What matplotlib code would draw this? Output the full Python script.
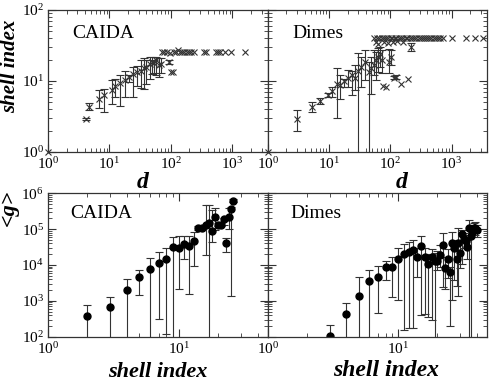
import matplotlib
matplotlib.use('Agg')
import matplotlib.pyplot as plt
import numpy as np

plt.rcParams['font.family'] = 'Liberation Serif'
plt.rcParams['mathtext.fontset'] = 'custom'
plt.rcParams['mathtext.rm'] = 'Liberation Serif'
plt.rcParams['mathtext.it'] = 'Liberation Serif:italic'
plt.rcParams['mathtext.bf'] = 'Liberation Serif:bold'

# --- top left: CAIDA shell index vs degree
caida_d = [4.2, 4.6, 6.7, 8.3, 10.9, 12.5, 14.8, 17.8, 20.5, 24, 28, 33, 37, 40, 45, 49, 53, 58, 63, 70, 92]
caida_s = [2.9, 4.3, 5.5, 6.3, 7.4, 8.4, 9.4, 10.2, 11.4, 12.5, 13.5, 13.9, 15.0, 15.8, 17.2, 18.6, 17.7, 19.5, 16.7, 17.5, 18.6]
caida_s_lo = [2.8, 3.9, 4.1, 3.7, 4.8, 6.0, 4.5, 6.0, 9.8, 6.0, 8.5, 8.0, 7.8, 9.0, 10.8, 12.5, 13.0, 12.0, 11.5, 13.0, 17.5]
caida_s_hi = [3.0, 4.9, 7.4, 7.8, 10.2, 10.8, 12.0, 13.8, 12.3, 15.5, 16.5, 20.0, 20.8, 20.0, 22.0, 21.5, 20.0, 22.0, 20.8, 21.0, 20.0]
caida_flat_d = [1, 72, 78, 85, 95, 100, 108, 112, 120, 128, 140, 150, 165, 180, 200, 215, 240, 340, 370, 550, 580, 620, 770, 950, 1620]
caida_flat_s = [1, 26, 26, 26, 25, 13.5, 13.5, 26, 26, 27, 26, 26, 26, 26, 26, 26, 26, 26, 26, 26, 26, 26, 26, 26, 26]

# --- top right: Dimes shell index vs degree
dimes_d = [2.93, 5.15, 7.05, 9.4, 11.2, 13.2, 14.9, 17.5, 20.3, 23.7, 26.9, 29.7, 33.6, 39, 44.4, 47.6, 54, 59, 63, 68, 72, 94, 103, 114, 125, 220]
dimes_s = [2.95, 4.3, 5.25, 6.3, 7.3, 9.2, 8.7, 9.9, 11.2, 12.1, 11.2, 13.9, 15.8, 18.6, 13.5, 15, 16.7, 19.7, 21.8, 24, 20, 18.6, 21.8, 11.2, 11.4, 30]
dimes_s_lo = [1.98, 3.67, 4.7, 5.9, 6.0, 3.05, 5.65, 8.3, 8.1, 6.3, 7.4, 0.5, 8.2, 10.2, 0.5, 6.5, 12.1, 10.2, 13.5, 16, 13, 13, 17, 10.8, 10.8, 26.6]
dimes_s_hi = [3.87, 5.08, 5.85, 6.7, 8.1, 15, 12.1, 10.8, 14.2, 13.9, 16.7, 24.4, 21.5, 27, 18.6, 22, 27, 25.8, 28.7, 30, 27, 28, 27, 11.7, 12, 34.5]
dimes_flat_d = [1, 76, 86, 150, 194, 58, 64, 80, 90, 110, 130, 160,
                55, 61, 66, 73, 79, 84, 92, 101, 107, 118, 126, 139, 151, 162, 178, 190, 210, 225, 247, 265, 290, 312,
                342, 368, 402, 433, 470, 515, 552, 600, 660, 715, 1000, 1700, 2400, 3300]
dimes_flat_s = [1, 8.4, 8.1, 9.2, 10.8, 35, 33, 36, 34, 35, 37, 36,
                40, 40, 40, 40, 40, 40, 40, 40, 40, 40, 40, 40, 40, 40, 40, 40, 40, 40, 40, 40, 40, 40,
                40, 40, 40, 40, 40, 40, 40, 40, 40, 40, 40, 40, 40, 40]

# --- bottom left: CAIDA <g> vs shell index
caida_k = [2, 3, 4, 5, 6, 7, 8, 9, 10, 11, 12, 13, 14, 15, 16, 17, 18, 19, 20, 21, 22, 23, 24, 25, 26]
caida_g = [380, 660, 2000, 4500, 7600, 11600, 14400, 31000, 29000, 37500, 34000, 47500, 105000, 110000,
           131000, 151000, 91000, 222000, 131000, 131000, 188000, 40000, 222000, 358000, 624000]
caida_g_lo = [50, 50, 50, 1450, 50, 305, 119, 50, 2140, 15000, 1550, 9400, 95000, 100000,
              19000, 50, 45000, 95000, 120000, 120000, 130000, 23700, 100000, 1400, 560000]
caida_g_hi = [760, 1300, 4000, 7300, 15400, 23700, 29000, 59000, 65000, 65000, 65000, 85000, 125000, 120000,
              470000, 470000, 340000, 380000, 150000, 150000, 210000, 55000, 380000, 420000, 680000]

# --- bottom right: Dimes <g> vs shell index
dimes_k = [3, 4, 5, 6, 7, 8, 9, 10, 11, 12, 13, 14, 15, 16, 17, 18, 19, 20, 21, 22, 23, 24, 25, 26,
           27, 28, 29, 30, 31, 32, 33, 34, 35, 36, 37, 38, 39, 40]
dimes_g = [105, 430, 1360, 3640, 4550, 8900, 8900, 14700, 20000, 23000, 26000, 17000, 34000, 17000,
           10700, 17000, 12900, 12900, 19000, 36000, 8100, 14700, 6300, 42000, 29000, 15000, 40000, 21000,
           72000, 52000, 48000, 31000, 105000, 65000, 85000, 105000, 110000, 95000]
dimes_g_lo = [50, 50, 50, 50, 470, 3800, 1260, 1050, 154, 172, 172, 4700, 400, 420, 360, 300, 50, 7200,
              9000, 2500, 2130, 4400, 200, 1050, 3800, 2600, 1360, 8000, 11000, 30000, 30000, 15000, 50, 50,
              60000, 70000, 70000, 60000]
dimes_g_hi = [212, 850, 4700, 7200, 9300, 13200, 17000, 29000, 39000, 45000, 50000, 30000, 66000, 30000,
              20000, 28000, 22000, 24000, 36000, 76000, 17000, 28000, 9000, 85000, 50000, 26000, 105000, 45000,
              95000, 80000, 70000, 50000, 180000, 110000, 130000, 150000, 160000, 130000]

fig = plt.figure(figsize=(4.91, 3.81), dpi=100)
W, H = 491.0, 381.0
ax_tl = fig.add_axes([48/W, 1-152/H, 220/W, 142/H])
ax_tr = fig.add_axes([268/W, 1-152/H, 219/W, 142/H])
ax_bl = fig.add_axes([48/W, 1-336.7/H, 220/W, 143.4/H])
ax_br = fig.add_axes([268/W, 1-336.7/H, 219/W, 143.4/H])

ecol = '#333333'


def yerr(y, lo, hi):
    y = np.array(y)
    return [y - np.array(lo), np.array(hi) - y]


def top_panel(ax, d, s, lo, hi, fd, fs, name):
    ax.errorbar(d, s, yerr=yerr(s, lo, hi), fmt='x', color=ecol, ms=4, mew=0.8,
                ecolor=ecol, elinewidth=0.8, capsize=3, capthick=0.8)
    ax.plot(fd, fs, 'x', color=ecol, ms=4, mew=0.8, clip_on=False)
    ax.set_xscale('log')
    ax.set_yscale('log')
    ax.set_xlim(1, 3800)
    ax.set_ylim(1, 100)
    ax.text(0.11, 0.8, name, transform=ax.transAxes, fontsize=14)
    ax.set_xlabel('d', fontsize=17, fontweight='bold', fontstyle='italic')


def bottom_panel(ax, k, g, lo, hi, name, lsize):
    ax.errorbar(k, g, yerr=yerr(g, lo, hi), fmt='o', color='black', ms=5,
                ecolor=ecol, elinewidth=0.8, capsize=3, capthick=0.8)
    ax.set_xscale('log')
    ax.set_yscale('log')
    ax.set_xlim(1, 48)
    ax.set_ylim(100, 1e6)
    ax.text(0.1, 0.83, name, transform=ax.transAxes, fontsize=14)
    ax.set_xlabel('shell index', fontsize=lsize, fontweight='bold', fontstyle='italic')


top_panel(ax_tl, caida_d, caida_s, caida_s_lo, caida_s_hi, caida_flat_d, caida_flat_s, 'CAIDA')
top_panel(ax_tr, dimes_d, dimes_s, dimes_s_lo, dimes_s_hi, dimes_flat_d, dimes_flat_s, 'Dimes')
bottom_panel(ax_bl, caida_k, caida_g, caida_g_lo, caida_g_hi, 'CAIDA', 16)
bottom_panel(ax_br, dimes_k, dimes_g, dimes_g_lo, dimes_g_hi, 'Dimes', 17)

ax_tl.xaxis.set_label_coords(0.43, -0.14)
ax_tr.xaxis.set_label_coords(0.61, -0.14)
ax_bl.xaxis.set_label_coords(0.5, -0.175)
ax_br.xaxis.set_label_coords(0.54, -0.165)

ax_tl.set_ylabel('shell index', fontsize=15, fontweight='bold', fontstyle='italic')
ax_tl.yaxis.set_label_coords(-0.125, 0.6)
ax_bl.set_ylabel('<g>', fontsize=16, fontweight='bold', fontstyle='italic')
ax_bl.yaxis.set_label_coords(-0.13, 0.9)

for ax in [ax_tl, ax_tr, ax_bl, ax_br]:
    ax.tick_params(which='both', direction='in', top=True, right=True, labelsize=11, color='#333333', pad=3)
    ax.tick_params(which='major', length=5.5, width=0.8)
    ax.tick_params(which='minor', length=3, width=0.6)
    for sp in ax.spines.values():
        sp.set_color('#333333')
        sp.set_linewidth(0.9)

ax_tr.tick_params(labelleft=False)
ax_br.tick_params(labelleft=False)

fig.savefig('out.png', dpi=100)
